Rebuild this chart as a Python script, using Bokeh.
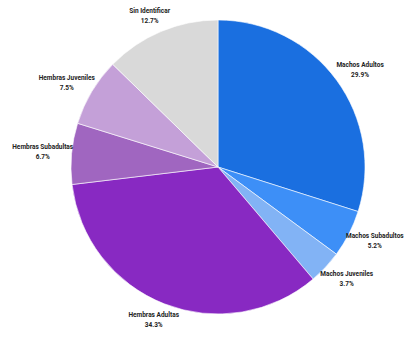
import math
from bokeh.plotting import figure
from bokeh.models import Range1d, ColumnDataSource
from bokeh.core.properties import value
from bokeh.embed import file_html
from bokeh.resources import INLINE

categories = ["Machos Adultos", "Machos Subadultos", "Machos Juveniles",
              "Hembras Adultas", "Hembras Subadultas", "Hembras Juveniles",
              "Sin Identificar"]
percent = [29.9, 5.2, 3.7, 34.3, 6.7, 7.5, 12.7]
colors = ["#1a6fe0", "#3d8ff7", "#82b3f5", "#8829c2", "#a066c0", "#c4a0d8", "#d9d9d9"]

W, H = 413, 339
cx, cy, r = 217.5, H - 166.5, 147
lrx, lry = 176, 164

total = sum(percent)
starts, ends, lx, ly, pct_txt = [], [], [], [], []
cum = 0.0
for v in percent:
    a0 = math.pi / 2 - 2 * math.pi * cum / total
    cum += v
    a1 = math.pi / 2 - 2 * math.pi * cum / total
    starts.append(a0)
    ends.append(a1)
    mid = (a0 + a1) / 2
    lx.append(cx + lrx * math.cos(mid))
    ly.append(cy + lry * math.sin(mid))
    pct_txt.append(f"{v}%")

src = ColumnDataSource(dict(start=starts, end=ends, color=colors,
                            lx=lx, ly=ly, name=categories, pct=pct_txt))

p = figure(width=W, height=H, output_backend="svg", toolbar_location=None,
           x_range=Range1d(0, W), y_range=Range1d(0, H), min_border=0)
p.axis.visible = False
p.grid.visible = False
p.outline_line_color = None
p.background_fill_color = "white"

p.wedge(x=cx, y=cy, radius=r, start_angle="start", end_angle="end",
        direction="clock", fill_color="color", line_color="white",
        line_width=0.6, source=src)

font = value("Roboto")
p.text(x="lx", y="ly", text="name", source=src, text_font=font,
       text_font_size="6.5px", text_font_style="bold", text_color="#222222",
       text_align="center", text_baseline="middle", y_offset=-5)
p.text(x="lx", y="ly", text="pct", source=src, text_font=font,
       text_font_size="6.5px", text_font_style="bold", text_color="#222222",
       text_align="center", text_baseline="middle", y_offset=5)

open("out.html", "w").write(file_html(p, INLINE))
